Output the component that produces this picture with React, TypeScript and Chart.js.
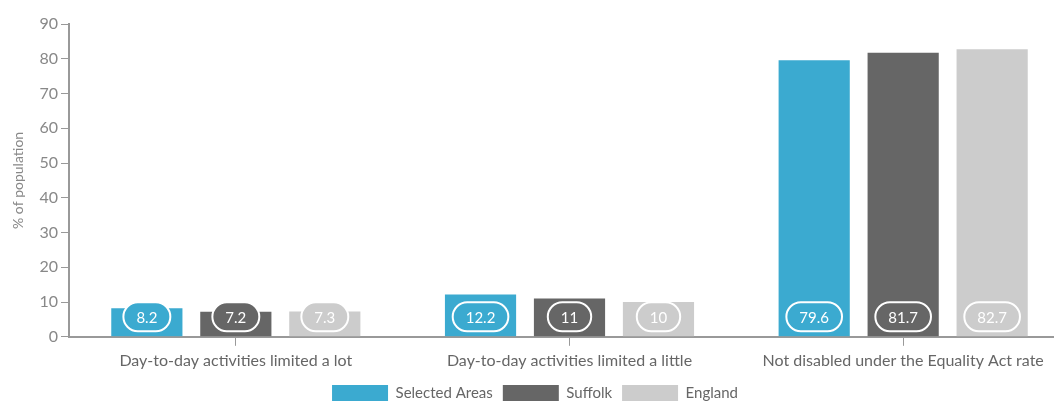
import React, { useEffect, useRef } from "react";
import { Chart, registerables } from "chart.js";

Chart.register(...registerables);

const categories = [
  "Day-to-day activities limited a lot",
  "Day-to-day activities limited a little",
  "Not disabled under the Equality Act rate",
];
const seriesNames = ["Selected Areas", "Suffolk", "England"];
const selectedAreas = [8.2, 12.2, 79.6];
const suffolk = [7.2, 11, 81.7];
const england = [7.3, 10, 82.7];
const colors = ["#3BAAD0", "#666666", "#CCCCCC"];
const yTicks = [0, 10, 20, 30, 40, 50, 60, 70, 80, 90];

const FONT = "Lato, 'Open Sans', sans-serif";

const pillPlugin = {
  id: "pills",
  afterDatasetsDraw(chart: any) {
    const ctx = chart.ctx;
    const yScale = chart.scales.y;
    const bottom = yScale.getPixelForValue(0);
    ctx.save();
    ctx.font = `15px ${FONT}`;
    chart.data.datasets.forEach((ds: any, di: number) => {
      const meta = chart.getDatasetMeta(di);
      meta.data.forEach((bar: any, i: number) => {
        const text = String(ds.data[i]);
        const tw = ctx.measureText(text).width;
        const w = tw + 26;
        const h = 29;
        const cx = bar.x;
        const cy = bottom - 20;
        const r = h / 2;
        ctx.beginPath();
        ctx.moveTo(cx - w / 2 + r, cy - r);
        ctx.lineTo(cx + w / 2 - r, cy - r);
        ctx.arc(cx + w / 2 - r, cy, r, -Math.PI / 2, Math.PI / 2);
        ctx.lineTo(cx - w / 2 + r, cy + r);
        ctx.arc(cx - w / 2 + r, cy, r, Math.PI / 2, (3 * Math.PI) / 2);
        ctx.closePath();
        ctx.fillStyle = colors[di];
        ctx.fill();
        ctx.lineWidth = 2;
        ctx.strokeStyle = "#ffffff";
        ctx.stroke();
        ctx.fillStyle = "#ffffff";
        ctx.textAlign = "center";
        ctx.textBaseline = "middle";
        ctx.fillText(text, cx, cy + 1);
      });
    });
    ctx.restore();
  },
};

export default function App() {
  const ref = useRef<HTMLCanvasElement>(null);
  useEffect(() => {
    document.body.style.margin = "0";
    const values = [selectedAreas, suffolk, england];
    const chart = new Chart(ref.current!, {
      type: "bar",
      data: {
        labels: categories,
        datasets: seriesNames.map((name, i) => ({
          label: name,
          data: values[i],
          backgroundColor: colors[i],
          borderWidth: 0,
          categoryPercentage: 0.8,
          barPercentage: 0.8,
        })),
      },
      options: {
        responsive: false,
        animation: false,
        maintainAspectRatio: false,
        layout: { padding: { top: 24, right: 0, bottom: 0, left: 0 } },
        plugins: {
          legend: {
            position: "bottom",
            labels: {
              boxWidth: 56,
              boxHeight: 17,
              padding: 10,
              color: "#666",
              font: { family: FONT, size: 15 },
            },
          },
          tooltip: { enabled: false },
        },
        scales: {
          x: {
            grid: {
              offset: false,
              drawOnChartArea: false,
              drawTicks: true,
              tickLength: 9,
              color: "#999",
            },
            border: { color: "#999", width: 2 },
            ticks: { color: "#666", font: { family: FONT, size: 16 }, padding: 5 },
          },
          y: {
            min: 0,
            max: 90,
            afterBuildTicks: (scale: any) => {
              scale.ticks = yTicks.map((v) => ({ value: v }));
            },
            afterFit: (scale: any) => {
              scale.width = 69;
            },
            grid: {
              drawOnChartArea: false,
              drawTicks: true,
              tickLength: 8,
              color: "#999",
            },
            border: { color: "#999", width: 2 },
            ticks: { color: "#888", font: { family: FONT, size: 16 }, padding: 3 },
            title: {
              display: true,
              text: "% of population",
              color: "#888",
              font: { family: FONT, size: 14 },
              padding: { top: 10, bottom: 0 },
            },
          },
        },
      },
      plugins: [pillPlugin],
    });
    return () => chart.destroy();
  }, []);
  return (
    <div style={{ width: 1054, height: 401, overflow: "hidden", position: "relative" }}>
      <canvas ref={ref} width={1070} height={412} style={{ display: "block" }} />
    </div>
  );
}
